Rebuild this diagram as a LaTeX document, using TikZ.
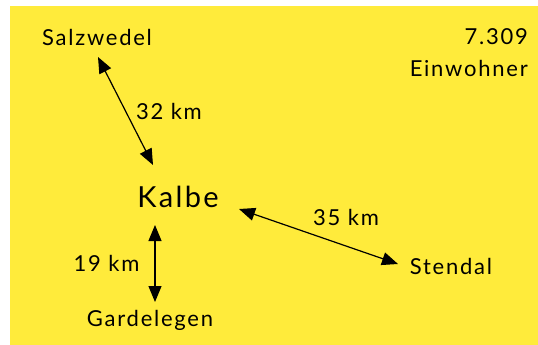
\documentclass[tikz,border=0pt]{standalone}
\usepackage{fontspec}
\setmainfont[LetterSpace=8]{Lato}
\usetikzlibrary{arrows.meta, positioning}
\definecolor{notegelb}{HTML}{FFEB3B}
\tikzset{
  ort/.style={font=\fontsize{22}{32}\selectfont, inner sep=0pt},
  link/.style={arrows={Triangle[length=16pt,width=13pt]-Triangle[length=16pt,width=13pt]}, line width=1.2pt},
}
\begin{document}
\begin{tikzpicture}[x=1pt, y=-1pt]
            \useasboundingbox (0,0) rectangle (538,345);
            \fill[notegelb] (10,6) rectangle (538,345);

            % Orte
            \node[ort] (Salzwedel) at (97,37) {Salzwedel};
            \node[ort, font=\fontsize{29}{32}\selectfont] (Kalbe) at (178,197) {Kalbe};
            \node[ort] (Gardelegen) at (150,320) {Gardelegen};
            \node[ort] (Stendal) at (451,266) {Stendal};
            \node[ort, align=right, anchor=north east] (Info) at (528,28) {7.309\\Einwohner};

            % Entfernungen
            \draw[link] ([shift={(1,20)}]Salzwedel.center) -- node[ort, right=10pt] {32 km} ([shift={(-25,-32)}]Kalbe.center);
            \draw[link] ([shift={(-23,28)}]Kalbe.center) -- node[ort, left=15pt] {19 km} ([shift={(5,-18)}]Gardelegen.center);
            \draw[link] ([shift={(61,12)}]Kalbe.center) -- node[ort, pos=0.45, above right=7pt and 2pt] {35 km} ([shift={(-53,-2)}]Stendal.center);
        \end{tikzpicture}
\end{document}
